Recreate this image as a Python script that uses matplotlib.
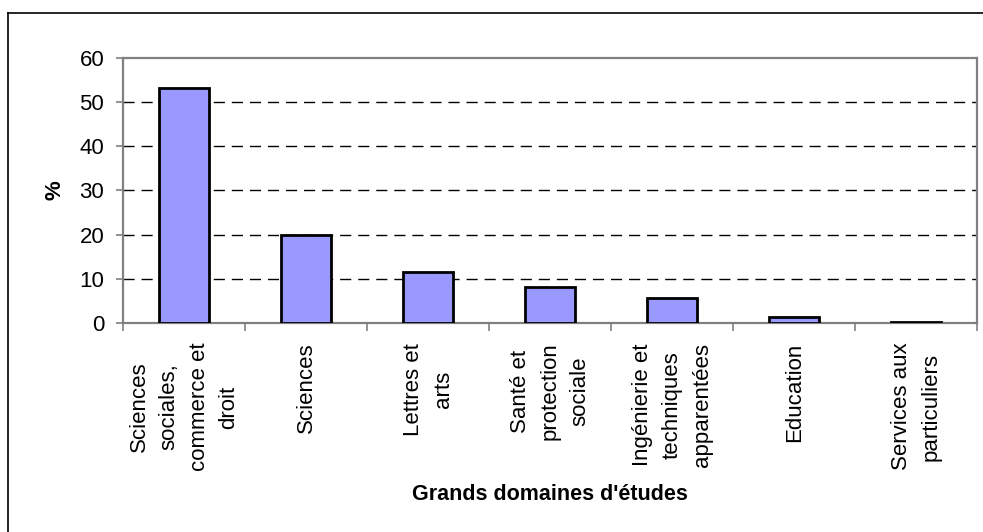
import matplotlib.pyplot as plt
from matplotlib.lines import Line2D

plt.rcParams["font.family"] = ["Liberation Sans", "DejaVu Sans"]

categories = [
    "Sciences\nsociales,\ncommerce et\ndroit",
    "Sciences",
    "Lettres et\narts",
    "Santé et\nprotection\nsociale",
    "Ingénierie et\ntechniques\napparentées",
    "Education",
    "Services aux\nparticuliers",
]
values = [53.2, 19.9, 11.6, 8.2, 5.6, 1.4, 0.3]
yticks = [0, 10, 20, 30, 40, 50, 60]

fig = plt.figure(figsize=(9.83, 5.32), dpi=100)
ax = fig.add_axes([0.1253, 0.3923, 0.8691, 0.4996])

x = list(range(len(categories)))
ax.bar(x, values, width=0.41, color="#9999FF", edgecolor="black", linewidth=2, zorder=3)

ax.set_xlim(-0.5, len(categories) - 0.5)
ax.set_ylim(0, 60)
ax.set_yticks(yticks)
ax.set_yticklabels([str(v) for v in yticks], fontsize=16)

# category ticks sit between the bars
ax.set_xticks([i - 0.5 for i in range(len(categories) + 1)])
ax.set_xticklabels([])
ax.set_xticks(x, minor=True)
ax.set_xticklabels(categories, minor=True, rotation=90, fontsize=16,
                   ha="center", va="top", multialignment="center", linespacing=1.55)
ax.tick_params(axis="x", which="major", direction="out", length=5.8, width=1.2, color="#808080")
ax.tick_params(axis="x", which="minor", length=0, pad=14)
ax.tick_params(axis="y", direction="out", length=4.7, width=1.2, color="#808080", pad=9)

for v in yticks[1:-1]:
    ax.axhline(v, color="black", linewidth=1, linestyle=(0, (8, 5)), zorder=1)

for side in ["top", "right", "left", "bottom"]:
    ax.spines[side].set_color("#808080")
    ax.spines[side].set_linewidth(1.6)

ax.set_ylabel("%", fontsize=16, fontweight="bold")
ax.yaxis.set_label_coords(-0.068, 0.5)
fig.text(0.5595, 1 - 494 / 532, "Grands domaines d'études", fontsize=15.5, fontweight="bold",
         ha="center", va="center")

# outer chart frame (only top and left edges visible in the reference)
fig.add_artist(Line2D([8 / 983, 1.0], [1 - 13 / 532, 1 - 13 / 532], color="black", linewidth=1.2))
fig.add_artist(Line2D([8 / 983, 8 / 983], [0.0, 1 - 13 / 532], color="black", linewidth=1.2))

fig.savefig("out.png", dpi=100)
